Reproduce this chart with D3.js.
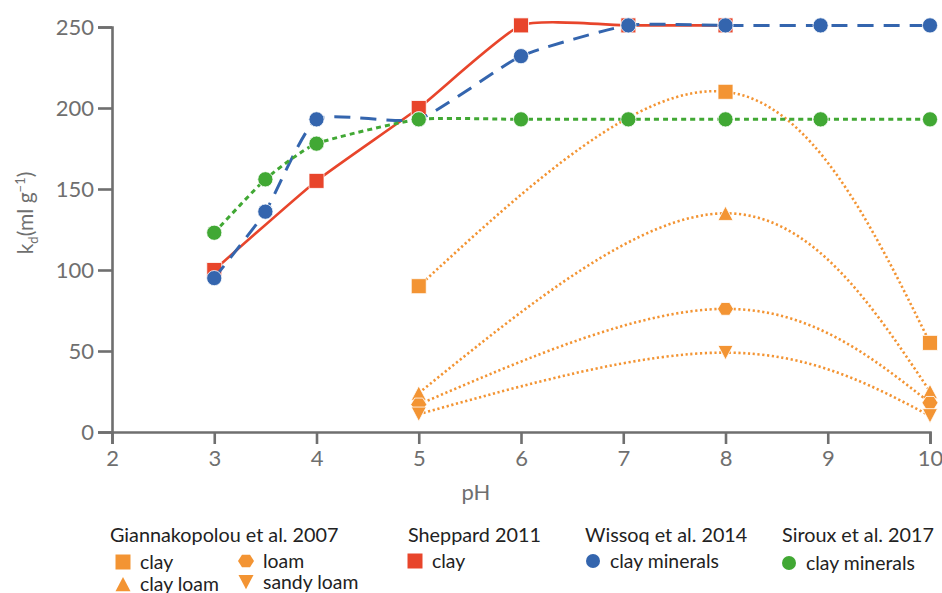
<!DOCTYPE html>
<html>
<head>
<meta charset="utf-8">
<script src="https://cdn.jsdelivr.net/npm/d3@7"></script>
<style>
  html, body { margin: 0; padding: 0; background: #fff; }
  svg { display: block; font-family: Lato, "Open Sans", sans-serif; }
</style>
</head>
<body>
<svg id="chart" width="942" height="593"></svg>
<script>
// --- data -------------------------------------------------------------
const giannPH        = [5, 8, 10];
const giannClay      = [90, 210, 55];
const giannClayLoam  = [24, 135, 25];
const giannLoam      = [17, 76, 18];
const giannSandyLoam = [11, 49, 10];

const sheppardPH   = [3, 4, 5, 6, 7.05, 8];
const sheppardClay = [100, 155, 200, 251, 251, 251];

const wissoqPH   = [3, 3.5, 4, 5, 6, 7.05, 8, 8.93, 10];
const wissoqClay = [95, 136, 193, 193, 232, 251, 251, 251, 251];

const sirouxPH   = [3, 3.5, 4, 5, 6, 7.05, 8, 8.93, 10];
const sirouxClay = [123, 156, 178, 193, 193, 193, 193, 193, 193];

const xTicks = [2, 3, 4, 5, 6, 7, 8, 9, 10];
const yTicks = [0, 50, 100, 150, 200, 250];

// --- colours ------------------------------------------------------------
const ORANGE = "#f39433";
const RED    = "#e8452b";
const BLUE   = "#3465ae";
const GREEN  = "#41a834";
const AXIS   = "#6f6f6f";

const svg = d3.select("#chart");

const x = d3.scaleLinear().domain([2, 10]).range([112, 930]);
const y = d3.scaleLinear().domain([0, 250]).range([432, 27]);

// --- axes ---------------------------------------------------------------
const xAxis = svg.append("g")
  .attr("transform", `translate(0,${y(0)})`)
  .call(d3.axisBottom(x).tickValues(xTicks).tickFormat(d3.format("d")).tickSize(12).tickPadding(6));
const yAxis = svg.append("g")
  .attr("transform", `translate(${x(2)},0)`)
  .call(d3.axisLeft(y).tickValues(yTicks).tickFormat(d3.format("d")).tickSize(14).tickPadding(4));

[xAxis, yAxis].forEach(g => {
  g.select(".domain").attr("stroke", AXIS).attr("stroke-width", 2.6);
  g.selectAll(".tick line").attr("stroke", AXIS).attr("stroke-width", 2.6);
  g.selectAll(".tick text").attr("fill", AXIS).attr("font-size", 22)
    .attr("font-family", "Lato, sans-serif");
});
yAxis.selectAll(".tick text").attr("dy", "0.36em");

// axis titles
svg.append("text")
  .attr("x", 476).attr("y", 500)
  .attr("text-anchor", "middle")
  .attr("fill", AXIS).attr("font-size", 22)
  .text("pH");

const yl = svg.append("text")
  .attr("transform", "translate(33,213) rotate(-90)")
  .attr("text-anchor", "middle")
  .attr("fill", AXIS).attr("font-size", 21);
yl.append("tspan").text("k");
yl.append("tspan").attr("font-size", 13).attr("dy", 5).text("d");
yl.append("tspan").attr("dy", -5).text("(ml g");
yl.append("tspan").attr("font-size", 13).attr("dy", -8).text("−1");
yl.append("tspan").attr("dy", 8).text(")");

// --- marker shapes ------------------------------------------------------
const hexPath = (r) => {
  const pts = d3.range(6).map(i => {
    const a = Math.PI / 3 * i;
    return [r * Math.cos(a), r * 0.92 * Math.sin(a)];
  });
  return "M" + pts.map(p => p.join(",")).join("L") + "Z";
};
const triPath = (s, down) => {
  const h = s * 0.95;
  const k = down ? -1 : 1;
  return `M0,${-k * h / 2}L${s / 2},${k * h / 2}L${-s / 2},${k * h / 2}Z`;
};
const shapes = {
  square:   () => "M-7.5,-7.5H7.5V7.5H-7.5Z",
  circle:   () => d3.symbol(d3.symbolCircle, Math.PI * 7.6 * 7.6)(),
  triangle: () => triPath(15, false),
  hexagon:  () => hexPath(8),
  triDown:  () => triPath(15, true)
};

function drawSeries(xs, ys, opts) {
  const pts = xs.map((v, i) => [v, ys[i]]);
  const line = d3.line()
    .x(d => x(d[0])).y(d => y(d[1]))
    .curve(opts.curve);
  const g = svg.append("g");
  g.append("path")
    .attr("d", line(pts))
    .attr("fill", "none")
    .attr("stroke", opts.color)
    .attr("stroke-width", opts.width)
    .attr("stroke-dasharray", opts.dash || null)
    .attr("stroke-linecap", opts.cap || "butt");
  g.selectAll("path.mk").data(pts).enter().append("path")
    .attr("class", "mk")
    .attr("transform", d => `translate(${x(d[0])},${y(d[1])})`)
    .attr("d", shapes[opts.shape]())
    .attr("fill", opts.color)
    .attr("stroke", "#fff")
    .attr("stroke-width", 0.8);
}

const smooth = d3.curveCardinal.tension(0.5);
const dotted = { color: ORANGE, width: 2.6, dash: "2.2,2.6", curve: d3.curveNatural };
drawSeries(giannPH, giannClay,      { ...dotted, shape: "square" });
drawSeries(giannPH, giannClayLoam,  { ...dotted, shape: "triangle" });
drawSeries(giannPH, giannLoam,      { ...dotted, shape: "hexagon" });
drawSeries(giannPH, giannSandyLoam, { ...dotted, shape: "triDown" });

drawSeries(sheppardPH, sheppardClay, { color: RED, width: 2.6, curve: smooth, shape: "square" });
drawSeries(wissoqPH, wissoqClay, { color: BLUE, width: 3, dash: "16,10", curve: smooth, shape: "circle" });
drawSeries(sirouxPH, sirouxClay, { color: GREEN, width: 3, dash: "5,4", curve: smooth, shape: "circle" });

// --- legend -------------------------------------------------------------
const LEG_TXT = "#222";
const legend = svg.append("g").attr("fill", LEG_TXT);

const groups = [
  { title: "Giannakopolou et al. 2007", x: 110, items: [
      { shape: "square",   color: ORANGE, label: "clay",       x: 123, y: 562 },
      { shape: "triangle", color: ORANGE, label: "clay loam",  x: 123, y: 584 },
      { shape: "hexagon",  color: ORANGE, label: "loam",       x: 246, y: 561 },
      { shape: "triDown",  color: ORANGE, label: "sandy loam", x: 246, y: 582 } ] },
  { title: "Sheppard 2011", x: 408, items: [
      { shape: "square", color: RED, label: "clay", x: 415, y: 561 } ] },
  { title: "Wissoq et al. 2014", x: 585, items: [
      { shape: "circle", color: BLUE, label: "clay minerals", x: 593, y: 561 } ] },
  { title: "Siroux et al. 2017", x: 782, items: [
      { shape: "circle", color: GREEN, label: "clay minerals", x: 789, y: 563 } ] }
];

groups.forEach(gr => {
  legend.append("text").attr("x", gr.x).attr("y", 542)
    .attr("font-size", 19.8).text(gr.title);
  gr.items.forEach(it => {
    legend.append("path")
      .attr("transform", `translate(${it.x},${it.y})`)
      .attr("d", it.shape === "circle"
        ? d3.symbol(d3.symbolCircle, Math.PI * 7 * 7)()
        : shapes[it.shape]())
      .attr("fill", it.color);
    legend.append("text")
      .attr("x", it.x + 17).attr("y", it.y + 7)
      .attr("font-size", 19.4)
      .text(it.label);
  });
});
</script>
</body>
</html>
